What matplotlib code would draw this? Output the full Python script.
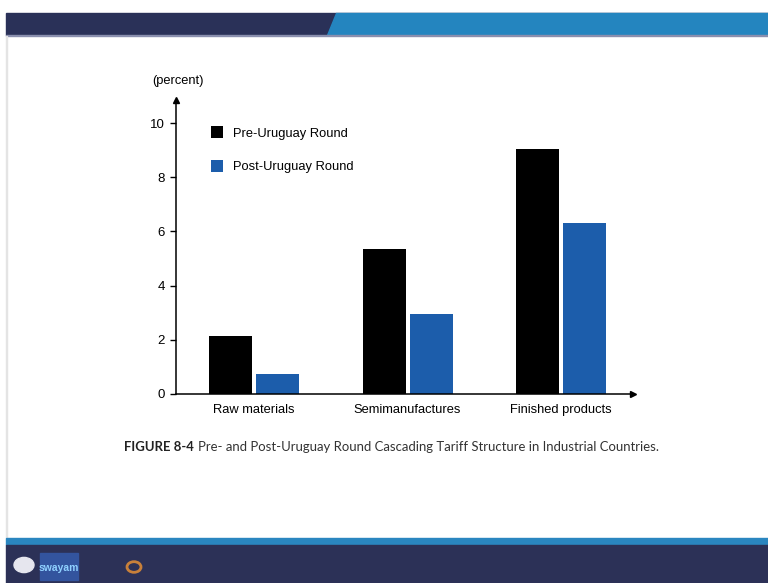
import matplotlib
matplotlib.use("Agg")
import numpy as np
from matplotlib import pyplot as plt
from matplotlib.patches import Rectangle, Polygon, Circle

categories = ["Raw materials", "Semimanufactures", "Finished products"]
pre_uruguay = [2.15, 5.35, 9.05]
post_uruguay = [0.75, 2.95, 6.3]
series_names = ["Pre-Uruguay Round", "Post-Uruguay Round"]
y_ticks = [0, 2, 4, 6, 8, 10]
caption_bold = "FIGURE 8-4"
caption_text = "Pre- and Post-Uruguay Round Cascading Tariff Structure in Industrial Countries."

plt.rcParams["font.family"] = ["Liberation Sans", "DejaVu Sans"]

W, H = 768, 583
fig = plt.figure(figsize=(W / 100, H / 100), dpi=100)
fig.patch.set_facecolor("white")

def fx(px):
    return px / W

def fy(py):
    return 1 - py / H

# slide decoration: top bar
fig.patches.append(Rectangle((fx(6), fy(35)), fx(762), 22 / H, transform=fig.transFigure,
                             color="#2a3158", zorder=0))
fig.patches.append(Polygon([(fx(336), fy(13)), (fx(768), fy(13)), (fx(768), fy(35)), (fx(327), fy(35))],
                           closed=True, transform=fig.transFigure, color="#2485bf", zorder=0))
fig.patches.append(Rectangle((fx(6), fy(36)), fx(762), 1 / H, transform=fig.transFigure,
                             color="#8a8fae", zorder=0))
fig.patches.append(Rectangle((fx(6), fy(538)), 1 / W, 502 / H, transform=fig.transFigure,
                             color="#e4e4e4", zorder=0))
# bottom bar
fig.patches.append(Rectangle((fx(6), fy(545)), fx(762), 7 / H, transform=fig.transFigure,
                             color="#2a86c0", zorder=0))
fig.patches.append(Rectangle((fx(6), 0), fx(762), 38 / H, transform=fig.transFigure,
                             color="#2c3157", zorder=0))
fig.patches.append(Circle((fx(24), fy(565)), 10 / W, transform=fig.transFigure,
                          color="#e6e6ee", zorder=1))
fig.patches.append(Rectangle((fx(40), fy(580)), 38 / W, 27 / H, transform=fig.transFigure,
                             color="#33549e", zorder=1))
fig.text(fx(59), fy(568), "swayam", color="#8fd0ff", fontsize=7.5, ha="center", va="center",
         fontweight="bold")
fig.patches.append(Circle((fx(134), fy(567)), 7 / W, transform=fig.transFigure,
                          fill=False, ec="#c8803a", lw=2, zorder=1))

# chart
ax = fig.add_axes([fx(176), 1 - 394 / H, (633 - 176) / W, (394 - 100) / H])
x = np.arange(len(categories))
bw = 0.28
off = 0.153
ax.bar(x - off, pre_uruguay, bw, color="black", label=series_names[0], zorder=2)
ax.bar(x + off, post_uruguay, bw, color="#1c5dab", label=series_names[1], zorder=2)

ax.set_xlim(-0.51, 2.47)
ax.set_ylim(0, 10.85)
ax.set_yticks(y_ticks)
ax.set_yticklabels([str(t) for t in y_ticks], fontsize=9.5)
ax.set_xticks(x)
ax.set_xticklabels(categories, fontsize=9.3)
ax.tick_params(axis="x", length=0, pad=7)
ax.tick_params(axis="y", length=4, width=1, pad=4, direction="out")
for s in ["top", "right"]:
    ax.spines[s].set_visible(False)
for s in ["left", "bottom"]:
    ax.spines[s].set_linewidth(1.1)
ax.plot(1, 0, ">k", markersize=4, transform=ax.transAxes, clip_on=False)
ax.plot(0, 1, "^k", markersize=4, transform=ax.transAxes, clip_on=False)

fig.text(fx(152), fy(81), "(percent)", fontsize=9.3, ha="left", va="center")

ax.legend(loc="upper left", bbox_to_anchor=((211 - 176) / 457, (394 - 126) / 294),
          frameon=False, fontsize=9.3, borderpad=0, handlelength=0.95, handleheight=1.1,
          handletextpad=0.75, labelspacing=1.55, borderaxespad=0)

# caption: fit to the reference width (124..660 px)
fs = 11
t1 = fig.text(fx(124), fy(447), caption_bold, fontsize=fs, fontweight="bold",
              ha="left", va="center", color="#222222", family=["Lato", "DejaVu Sans"])
t2 = fig.text(0, fy(447), caption_text, fontsize=fs, ha="left", va="center",
              color="#333333", family=["Lato", "DejaVu Sans"])
r = fig.canvas.get_renderer()
total = t1.get_window_extent(r).width + 4 + t2.get_window_extent(r).width
fs = fs * 536 / total
t1.set_fontsize(fs)
t2.set_fontsize(fs)
bb = t1.get_window_extent(r)
t2.set_x((bb.x1 + 4) / W)

fig.savefig("out.png", dpi=100)
